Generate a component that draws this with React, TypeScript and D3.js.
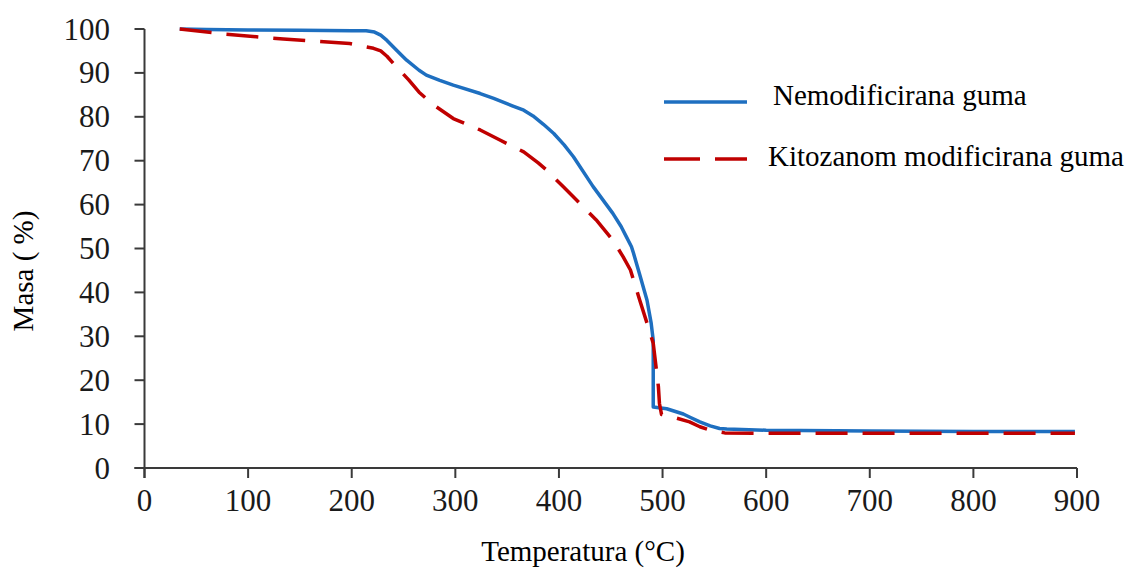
import React from "react";
import * as d3 from "d3";

const xTicks = [0, 100, 200, 300, 400, 500, 600, 700, 800, 900];
const yTicks = [0, 10, 20, 30, 40, 50, 60, 70, 80, 90, 100];

const seriesNames = ["Nemodificirana guma", "Kitozanom modificirana guma"];

const blueData: [number, number][] = [
  [34, 100], [60, 99.9], [100, 99.8], [150, 99.7], [200, 99.6], [214, 99.6],
  [222, 99.3], [228, 98.6], [234, 97.4], [244, 95.0], [253, 92.9], [265, 90.6],
  [272, 89.5], [285, 88.3], [298, 87.2], [324, 85.3], [337, 84.2], [355, 82.5],
  [366, 81.5], [375, 80.2], [385, 78.3], [395, 76.2], [405, 73.6], [414, 70.9],
  [433, 64.1], [452, 58], [460, 55.0], [465, 52.7], [470, 50.4], [472, 48.9],
  [478, 44], [485, 38.2], [489, 33], [491, 29.1], [491, 13.9], [504, 13.5],
  [520, 12.3], [527, 11.5], [536, 10.5], [546, 9.6], [555, 9.0], [562, 8.9],
  [600, 8.6], [700, 8.4], [800, 8.3], [898, 8.3],
];

const redData: [number, number][] = [
  [34, 100], [65, 99.2], [79, 98.8], [134, 97.7], [198, 96.7], [221, 95.6],
  [228, 95.0], [234, 93.8], [240, 92.2], [255, 88.4], [265, 85.6], [279, 82.7],
  [298, 79.6], [324, 77], [343, 74.7], [366, 72], [380, 69.5], [388, 67.9],
  [404, 64.1], [420, 60.3], [436, 56.5], [452, 51.9], [462, 48.1], [469, 45.1],
  [478, 38.2], [485, 33], [491, 28.4], [496, 18.5], [497, 14.7], [499, 12.2],
  [510, 11.6], [526, 10.5], [536, 9.4], [546, 8.6], [560, 8.0], [600, 7.9],
  [700, 7.9], [800, 7.9], [898, 7.9],
];

const BLUE = "#1e6fc0";
const RED = "#c00000";
const AXIS = "#3a3a3a";
const FONT = "'Liberation Serif', 'Times New Roman', serif";

export default function App() {
  const W = 1129;
  const H = 568;
  const x = d3.scaleLinear().domain([0, 900]).range([144.5, 1077]);
  const y = d3.scaleLinear().domain([0, 100]).range([468, 29]);
  const line = d3
    .line<[number, number]>()
    .x((d) => x(d[0]))
    .y((d) => y(d[1]))
    .curve(d3.curveLinear);

  const tick = 10;

  return (
    <svg
      width={W}
      height={H}
      style={{ position: "absolute", left: 0, top: 0, background: "#fff" }}
      fontFamily={FONT}
    >
      <rect width={W} height={H} fill="#fff" />
      {/* axes */}
      <line x1={x(0)} x2={x(0)} y1={y(100)} y2={y(0) + tick} stroke={AXIS} strokeWidth={2} />
      <line x1={x(0) - tick} x2={x(900)} y1={y(0)} y2={y(0)} stroke={AXIS} strokeWidth={2} />
      {yTicks.map((t) => (
        <g key={"y" + t}>
          <line x1={x(0) - tick} x2={x(0)} y1={y(t)} y2={y(t)} stroke={AXIS} strokeWidth={2} />
          <text
            x={110}
            y={y(t)}
            textAnchor="end"
            dominantBaseline="central"
            fontSize={31}
            fontFamily={FONT}
            fill="#1a1a1a"
          >
            {t}
          </text>
        </g>
      ))}
      {xTicks.map((t) => (
        <g key={"x" + t}>
          <line x1={x(t)} x2={x(t)} y1={y(0)} y2={y(0) + tick} stroke={AXIS} strokeWidth={2} />
          <text
            x={x(t)}
            y={511}
            textAnchor="middle"
            fontSize={31}
            fontFamily={FONT}
            fill="#1a1a1a"
          >
            {t}
          </text>
        </g>
      ))}
      {/* series */}
      <path
        d={line(blueData) || ""}
        fill="none"
        stroke={BLUE}
        strokeWidth={3.5}
        strokeLinejoin="round"
      />
      <path
        d={line(redData) || ""}
        fill="none"
        stroke={RED}
        strokeWidth={3.5}
        strokeDasharray="32 15"
        strokeLinejoin="round"
      />
      {/* axis titles */}
      <text x={583} y={561} textAnchor="middle" fontSize={29} fontFamily={FONT} fill="#000">
        Temperatura (°C)
      </text>
      <text
        transform="translate(33,271) rotate(-90)"
        textAnchor="middle"
        fontSize={29}
        fontFamily={FONT}
        fill="#000"
      >
        Masa ( %)
      </text>
      {/* legend */}
      <line x1={664} x2={747} y1={102} y2={102} stroke={BLUE} strokeWidth={3.5} />
      <text x={773} y={105} fontSize={29} fontFamily={FONT} fill="#000">
        {seriesNames[0]}
      </text>
      <line
        x1={664}
        x2={747}
        y1={159}
        y2={159}
        stroke={RED}
        strokeWidth={3.5}
        strokeDasharray="36 15"
      />
      <text x={768} y={166} fontSize={29} fontFamily={FONT} fill="#000">
        {seriesNames[1]}
      </text>
    </svg>
  );
}
